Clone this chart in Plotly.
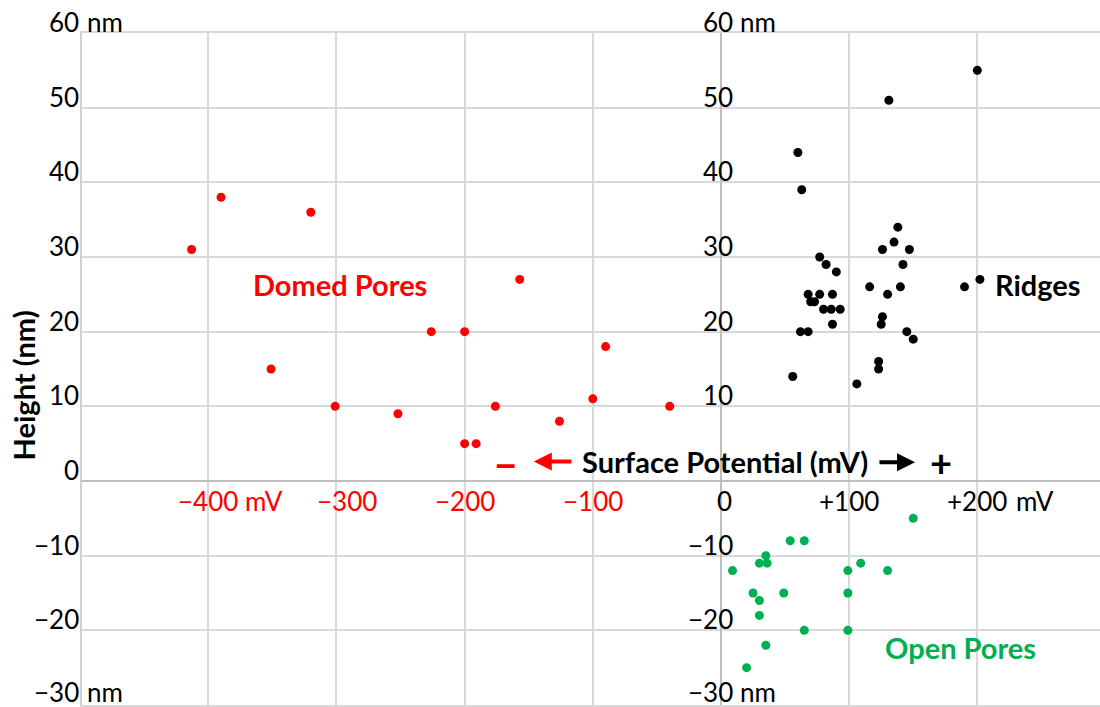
import plotly.graph_objects as go

# Domed pores: surface potential (mV) vs height (nm)
domed_mv = [-413, -390, -320, -351, -301, -252, -226, -200, -157, -90, -176, -100, -40, -126, -200, -191]
domed_nm = [31, 38, 36, 15, 10, 9, 20, 20, 27, 18, 10, 11, 10, 8, 5, 5]

# Ridges
ridge_mv = [60, 63, 138, 135, 126, 147, 142, 77, 82, 90, 116, 140, 130, 68, 77, 87, 70, 73,
            80, 86, 93, 87, 126, 125, 62, 68, 145, 150, 123, 123, 56, 106, 200, 131, 190, 202]
ridge_nm = [44, 39, 34, 32, 31, 31, 29, 30, 29, 28, 26, 26, 25, 25, 25, 25, 24, 24,
            23, 23, 23, 21, 22, 21, 20, 20, 20, 19, 16, 15, 14, 13, 55, 51, 26, 27]

# Open pores
open_mv = [150, 54, 65, 35, 30, 36, 109, 9, 99, 130, 25, 49, 99, 30, 30, 65, 99, 35, 20]
open_nm = [-5, -8, -8, -10, -11, -11, -11, -12, -12, -12, -15, -15, -15, -16, -18, -20, -20, -22, -25]

x_ticks = [-400, -300, -200, -100, 0, 100, 200]
x_tick_text = ["\u2212400", "\u2212300", "\u2212200", "\u2212100", "0", "+100", "+200"]
y_ticks = [-30, -20, -10, 0, 10, 20, 30, 40, 50, 60]
y_tick_text = ["\u221230", "\u221220", "\u221210", "0", "10", "20", "30", "40", "50", "60"]

RED = "#FF0000"
GREEN = "#00B050"
BLACK = "#000000"
GRID = "#D9D9D9"
AXIS = "#BFBFBF"
FONT = "Lato"
FS = 26      # tick labels
FSB = 29     # bold labels

W, H = 1100, 707
X_RANGE = [-498.5, 295.7]
Y_RANGE = [-30, 60]

fig = go.Figure()
for xs, ys, col in [(domed_mv, domed_nm, RED), (ridge_mv, ridge_nm, BLACK), (open_mv, open_nm, GREEN)]:
    fig.add_trace(go.Scatter(x=xs, y=ys, mode="markers",
                             marker=dict(color=col, size=9, line=dict(width=0)),
                             showlegend=False, hoverinfo="x+y"))


def label(**kw):
    base = dict(showarrow=False, borderpad=0)
    base.update(kw)
    return base


ann = []
# y labels on the left frame edge and along the x = 0 axis
for v, t in zip(y_ticks, y_tick_text):
    ys = 13 if v == y_ticks[0] else 11
    f = dict(family=FONT, size=FS, color=BLACK)
    ann.append(label(xref="paper", x=0, xshift=-2, yref="y", y=v, yshift=ys,
                     xanchor="right", yanchor="middle", text=t, font=f))
    if v != 0:
        ann.append(label(xref="x", x=0, xshift=13, yref="y", y=v, yshift=ys,
                         xanchor="right", yanchor="middle", text=t, font=f))
    if v in (y_ticks[0], y_ticks[-1]):
        ann.append(label(xref="paper", x=0, xshift=4, yref="y", y=v, yshift=ys,
                         xanchor="left", yanchor="middle", text="nm", font=f))
        ann.append(label(xref="x", x=0, xshift=18, yref="y", y=v, yshift=ys,
                         xanchor="left", yanchor="middle", text="nm", font=f))

# x labels just below the y = 0 axis
x_nudge = {-300: 11, 0: 4}
for v, t in zip(x_ticks, x_tick_text):
    col = RED if v < 0 else BLACK
    ann.append(label(xref="x", x=v, xshift=x_nudge.get(v, 0), yref="y", y=0, yshift=-20,
                     xanchor="center", yanchor="middle", text=t,
                     font=dict(family=FONT, size=FS, color=col)))
ann.append(label(xref="x", x=x_ticks[0], xshift=36, yref="y", y=0, yshift=-20,
                 xanchor="left", yanchor="middle", text="mV",
                 font=dict(family=FONT, size=FS, color=RED)))
ann.append(label(xref="x", x=x_ticks[-1], xshift=38, yref="y", y=0, yshift=-20,
                 xanchor="left", yanchor="middle", text="mV",
                 font=dict(family=FONT, size=FS, color=BLACK)))

# axis title
ann.append(label(xref="paper", x=-0.058, yref="y", y=12.8, textangle=-90,
                 xanchor="center", yanchor="middle", text="<b>Height (nm)</b>",
                 font=dict(family=FONT, size=FSB, color=BLACK)))

# group names
for txt, x, y, col in [("Domed Pores", -297, 26.1, RED), ("Ridges", 247.7, 26.1, BLACK),
                       ("Open Pores", 186.5, -22.5, GREEN)]:
    ann.append(label(xref="x", x=x, yref="y", y=y, yshift=2, xanchor="center", yanchor="middle",
                     text=f"<b>{txt}</b>", font=dict(family=FONT, size=FSB, color=col)))

# surface-potential direction key
ann.append(label(xref="x", x=3.1, yref="y", y=2.34, yshift=2, xanchor="center", yanchor="middle",
                 text="<b>Surface Potential (mV)</b>",
                 font=dict(family=FONT, size=FSB, color=BLACK)))
ann.append(label(xref="x", x=-167.7, yref="y", y=2.6, xanchor="center", yanchor="middle",
                 text="<b>\u2013</b>", font=dict(family=FONT, size=44, color=RED)))
ann.append(label(xref="x", x=172.0, yref="y", y=2.5, xanchor="center", yanchor="middle",
                 text="<b>+</b>", font=dict(family=FONT, size=38, color=BLACK)))
ann.append(dict(xref="x", x=-146, yref="y", y=2.6, axref="x", ax=-115.5, ayref="y", ay=2.6,
                text="", showarrow=True, arrowhead=2, arrowsize=0.9, arrowwidth=4,
                arrowcolor=RED, standoff=0, startstandoff=0))
ann.append(dict(xref="x", x=151.4, yref="y", y=2.5, axref="x", ax=122.5, ayref="y", ay=2.5,
                text="", showarrow=True, arrowhead=2, arrowsize=0.9, arrowwidth=4,
                arrowcolor=BLACK, standoff=0, startstandoff=0))

fig.update_layout(
    width=W, height=H,
    margin=dict(l=82, r=0, t=33, b=2, pad=0),
    paper_bgcolor="white", plot_bgcolor="white",
    showlegend=False,
    annotations=ann,
    xaxis=dict(range=X_RANGE, tickvals=x_ticks, showticklabels=False, ticks="",
               showgrid=True, gridcolor=GRID, gridwidth=2,
               zeroline=True, zerolinecolor=AXIS, zerolinewidth=2,
               showline=True, linecolor=GRID, linewidth=2, mirror=True, fixedrange=True),
    yaxis=dict(range=Y_RANGE, tickvals=y_ticks, showticklabels=False, ticks="",
               showgrid=True, gridcolor=GRID, gridwidth=2,
               zeroline=True, zerolinecolor=AXIS, zerolinewidth=2,
               showline=True, linecolor="#D0D0D0", linewidth=2, fixedrange=True),
)

fig.write_html("out.html")
